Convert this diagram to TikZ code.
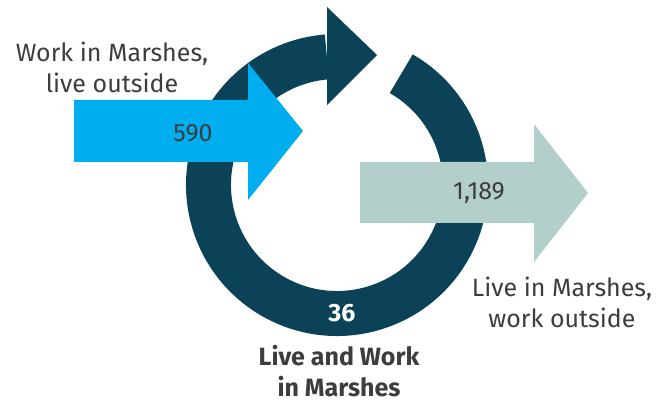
\documentclass[tikz,border=0pt]{standalone}
\usepackage{fontspec}
\setmainfont{Fira Sans}
\usetikzlibrary{calc}

\definecolor{ringteal}{HTML}{0B4257}
\definecolor{inblue}{HTML}{00AEEF}
\definecolor{outsage}{HTML}{B2CFCB}
\definecolor{textgrey}{HTML}{3D3D3D}

\tikzset{
    flowlabel/.style={text=textgrey, font=\fontsize{25}{31}\selectfont, align=center, inner sep=0pt},
    boldlabel/.style={flowlabel, font=\fontsize{25}{31}\selectfont\bfseries},
}

\begin{document}
\begin{tikzpicture}[x=1pt, y=1pt]
    \useasboundingbox (0,0) rectangle (672,402);
    \coordinate (c) at (337,217);

    % the loop, open at the top
    \draw [ringteal, line width=45pt] ($(c)+(60:128.5)$) arc [start angle=60, end angle=-265.5, radius=128.5pt];
    \fill [ringteal] (327,395) -- (377,347) -- (327,297) -- cycle;

    % coming in
    \fill [inblue] (74,302) -- (248,302) -- (248,339) -- (303,271) -- (248,202) -- (248,240) -- (74,240) -- cycle;
    % going out
    \fill [outsage] (360,240) -- (534,240) -- (534,278) -- (588,209) -- (534,140) -- (534,179) -- (360,179) -- cycle;

    \node [flowlabel] (inlabel) at (112,335) {Work in Marshes,\\live outside};
    \node [flowlabel] (innum) at (193,269) {590};
    \node [flowlabel] (outnum) at (479,209) {1,189};
    \node [flowlabel] (outlabel) at (562,100) {Live in Marshes,\\work outside};
    \node [boldlabel, text=white] (loopnum) at (342,89) {36};
    \node [boldlabel] (looplabel) at (339,31) {Live and Work\\in Marshes};
\end{tikzpicture}
\end{document}
